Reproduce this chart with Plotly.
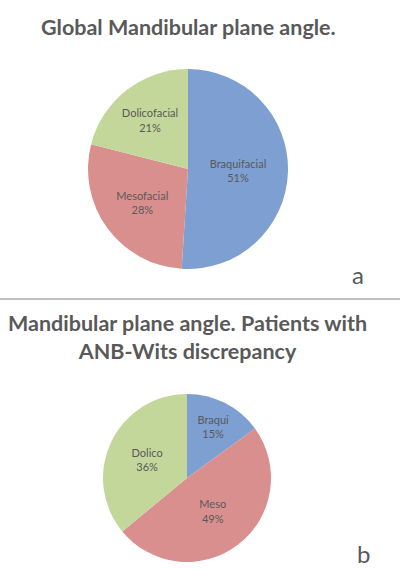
import plotly.graph_objects as go

# Data
labels_a = ["Braquifacial", "Mesofacial", "Dolicofacial"]
values_a = [51, 28, 21]
labels_b = ["Braqui", "Meso", "Dolico"]
values_b = [15, 49, 36]
title_a = "Global Mandibular plane angle."
title_b = "Mandibular plane angle. Patients with<br>ANB-Wits discrepancy"
colors = ["#7E9FD1", "#D98F8E", "#C3D79B"]

FONT = "Lato"
TXT = "#595959"

fig = go.Figure()
fig.add_trace(go.Pie(
    labels=labels_a, values=values_a, sort=False, direction="clockwise", rotation=0,
    marker=dict(colors=colors, line=dict(width=0)),
    texttemplate="%{label}<br>%{percent:.0%}", textposition="inside",
    insidetextorientation="horizontal",
    textfont=dict(family=FONT, size=11, color=TXT),
    domain=dict(x=[0.22, 0.72], y=[0.528, 0.879]),
    showlegend=False, hoverinfo="label+percent",
))
fig.add_trace(go.Pie(
    labels=labels_b, values=values_b, sort=False, direction="clockwise", rotation=0,
    marker=dict(colors=colors, line=dict(width=0)),
    texttemplate="%{label}<br>%{percent:.0%}", textposition="inside",
    insidetextorientation="horizontal",
    textfont=dict(family=FONT, size=11, color=TXT),
    domain=dict(x=[0.2575, 0.6775], y=[0.014, 0.309]),
    showlegend=False, hoverinfo="label+percent",
))

fig.add_annotation(text="<b>" + title_a + "</b>", x=188 / 400, y=1 - 27 / 570,
                   xref="paper", yref="paper", showarrow=False,
                   font=dict(family=FONT, size=21.5, color=TXT), xanchor="center", yanchor="middle")
fig.add_annotation(text="<b>" + title_b + "</b>", x=187 / 400, y=1 - 337 / 570,
                   xref="paper", yref="paper", showarrow=False,
                   font=dict(family=FONT, size=21.5, color=TXT), xanchor="center", yanchor="middle",
                   align="center")
fig.add_annotation(text="a", x=358 / 400, y=1 - 275 / 570, xref="paper", yref="paper",
                   xanchor="center", yanchor="middle",
                   showarrow=False, font=dict(family=FONT, size=24, color=TXT))
fig.add_annotation(text="b", x=363 / 400, y=1 - 553 / 570, xref="paper", yref="paper",
                   xanchor="center", yanchor="middle",
                   showarrow=False, font=dict(family=FONT, size=24, color=TXT))

fig.add_shape(type="line", xref="paper", yref="paper", x0=0, x1=1,
              y0=1 - 299 / 570, y1=1 - 299 / 570, line=dict(color="#C0C0C0", width=2))

fig.update_layout(width=400, height=570, margin=dict(l=0, r=0, t=0, b=0),
                  paper_bgcolor="white", plot_bgcolor="white")

fig.write_html("out.html")
